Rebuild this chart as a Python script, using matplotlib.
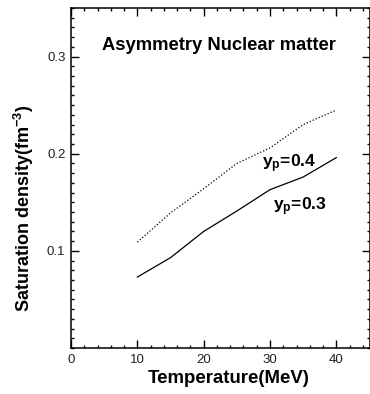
import matplotlib
matplotlib.use("Agg")
import matplotlib.pyplot as plt
from matplotlib.ticker import MultipleLocator, FixedLocator

plt.rcParams['font.family'] = ['Liberation Sans', 'DejaVu Sans']
plt.rcParams['mathtext.fontset'] = 'custom'
plt.rcParams['mathtext.rm'] = 'Liberation Sans:bold'
plt.rcParams['mathtext.it'] = 'Liberation Sans:bold'
plt.rcParams['mathtext.bf'] = 'Liberation Sans:bold'

temperature = [10, 15, 20, 25, 30, 35, 40]
yp03 = [0.073, 0.093, 0.120, 0.141, 0.163, 0.176, 0.196]
yp04 = [0.109, 0.139, 0.164, 0.190, 0.206, 0.230, 0.245]
xticks = [0, 10, 20, 30, 40]
yticks = [0.1, 0.2, 0.3]

fig = plt.figure(figsize=(3.70, 3.94), dpi=100)
ax = fig.add_axes([71/370, 46/394, 298.5/370, 340/394])

ax.plot(temperature, yp03, color='black', lw=0.9)
ax.plot(temperature, yp04, color='black', lw=0.9, linestyle=(0, (1, 1.6)))

ax.set_xlim(0, 45)
ax.set_ylim(0, 0.35)
ax.xaxis.set_major_locator(FixedLocator(xticks))
ax.xaxis.set_minor_locator(MultipleLocator(2))
ax.yaxis.set_major_locator(FixedLocator(yticks))
ax.yaxis.set_minor_locator(MultipleLocator(0.01))
ax.set_xticklabels([str(v) for v in xticks])
ax.set_yticklabels([f"{v:.1f}" for v in yticks])

ax.tick_params(which='both', direction='in', top=True, right=True, width=1.0,
               labelsize=9.5, labelcolor='#222222')
ax.tick_params(which='major', length=6, pad=4)
ax.tick_params(which='minor', length=2.5)
for s in ax.spines.values():
    s.set_linewidth(1.1)

ax.set_xlabel('Temperature(MeV)', fontsize=13.4, fontweight='bold')
ax.set_ylabel(r'Saturation density(fm$^{\mathbf{-3}}$)', fontsize=13.0, fontweight='bold')
ax.xaxis.set_label_coords(0.529, -0.066)
ax.yaxis.set_label_coords(-0.117, 0.41)

ax.text(22.3, 0.311, 'Asymmetry Nuclear matter', fontsize=13.2, fontweight='bold',
        ha='center', va='center')
ax.text(28.8, 0.190, r'y$_\mathbf{p}$=0.4', fontsize=12.6, fontweight='bold', ha='left', va='center')
ax.text(30.4, 0.145, r'y$_\mathbf{p}$=0.3', fontsize=12.6, fontweight='bold', ha='left', va='center')

fig.savefig('out.png', dpi=100)
